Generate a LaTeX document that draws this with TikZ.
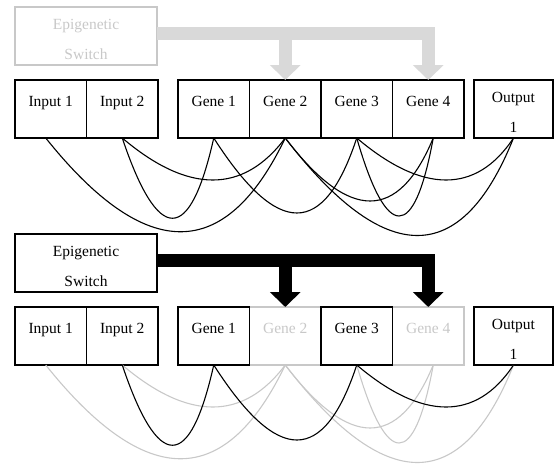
\documentclass[tikz,border=0pt]{standalone}
\usepackage{fontspec}
\setmainfont{Liberation Serif}
\usetikzlibrary{arrows.meta,calc}
\definecolor{offgray}{RGB}{200,200,200}
\definecolor{bargray}{RGB}{217,217,217}

\tikzset{
  cell/.style={draw, line width=1.4pt, anchor=north west, inner sep=0pt, outer sep=0pt,
    minimum width=71.5pt, text height=26pt, text depth=32pt, align=center,
    font=\fontsize{15.5}{18}\selectfont},
  twoline/.style={text height=52pt, text depth=6pt},
  off/.style={draw=offgray, text=offgray},
  link/.style={line width=1.1pt},
  offlink/.style={link, draw=offgray},
  switchbar/.style={line width=13pt, line join=miter, -{Triangle[width=30pt,length=15pt]}}
}

\begin{document}
\begin{tikzpicture}[x=1pt,y=1pt,yscale=-1,xscale=1]
\useasboundingbox (0,0) rectangle (554,464);

%Shape: Rectangle -- switch off
\node [cell, off, twoline, minimum width=142pt] (sw1) at (15,7) {Epigenetic\\[12pt]Switch};
%Shape: Rectangle -- circuit, all genes on
\node [cell] (in1a) at (15,80) {Input 1};
\node [cell] (in2a) at (86.5,80) {Input 2};
\node [cell] (g1a) at (178,80) {Gene 1};
\node [cell] (g2a) at (249.5,80) {Gene 2};
\node [cell] (g3a) at (321,80) {Gene 3};
\node [cell] (g4a) at (392.5,80) {Gene 4};
\node [cell, twoline, minimum width=79pt] (outa) at (474,80) {Output\\[12pt]1};

%Straight Lines -- grey switch arrows
\coordinate (bar1) at ($(sw1.east)+(0,-3)$);
\draw [switchbar, bargray] (bar1) -| (g4a.north);
\draw [switchbar, bargray] (bar1 -| g2a.north) -- (g2a.north);

%Curve Lines
\draw [link] ([xshift=-5pt]in1a.south) .. controls +(100,125) and +(-60,125) .. (g2a.south);
\draw [link] (in2a.south) .. controls +(36,107) and +(-24,107) .. (g1a.south);
\draw [link] (in2a.south) .. controls +(66,56) and +(-42,56) .. (g2a.south);
\draw [link] (g1a.south) .. controls +(64,100) and +(-33,100) .. (g3a.south);
\draw [link] (g2a.south) .. controls +(64,84) and +(-35,84) .. ([xshift=5pt]g4a.south);
\draw [link] (g2a.south) .. controls +(100,130) and +(-52,130) .. (outa.south);
\draw [link] (g3a.south) .. controls +(30,104) and +(-19,104) .. ([xshift=5pt]g4a.south);
\draw [link] (g3a.south) .. controls +(66,56) and +(-37,56) .. (outa.south);

%Shape: Rectangle -- switch on
\node [cell, twoline, minimum width=142pt] (sw2) at (15,234) {Epigenetic\\[12pt]Switch};
%Shape: Rectangle -- circuit, genes 2 and 4 off
\node [cell] (in1b) at (15,307) {Input 1};
\node [cell] (in2b) at (86.5,307) {Input 2};
\node [cell, off] (g2b) at (249.5,307) {Gene 2};
\node [cell, off] (g4b) at (392.5,307) {Gene 4};
\node [cell] (g1b) at (178,307) {Gene 1};
\node [cell] (g3b) at (321,307) {Gene 3};
\node [cell, twoline, minimum width=79pt] (outb) at (474,307) {Output\\[12pt]1};

%Straight Lines -- black switch arrows
\coordinate (bar2) at ($(sw2.east)+(0,-3)$);
\draw [switchbar] (bar2) -| (g4b.north);
\draw [switchbar] (bar2 -| g2b.north) -- (g2b.north);

%Curve Lines -- silenced links
\draw [offlink] ([xshift=-5pt]in1b.south) .. controls +(100,125) and +(-60,125) .. (g2b.south);
\draw [offlink] (in2b.south) .. controls +(66,56) and +(-42,56) .. (g2b.south);
\draw [offlink] (g2b.south) .. controls +(64,84) and +(-35,84) .. ([xshift=5pt]g4b.south);
\draw [offlink] (g2b.south) .. controls +(100,130) and +(-52,130) .. (outb.south);
\draw [offlink] (g3b.south) .. controls +(30,104) and +(-19,104) .. ([xshift=5pt]g4b.south);
%Curve Lines -- active links
\draw [link] (in2b.south) .. controls +(36,107) and +(-24,107) .. (g1b.south);
\draw [link] (g1b.south) .. controls +(64,100) and +(-33,100) .. (g3b.south);
\draw [link] (g3b.south) .. controls +(66,56) and +(-37,56) .. (outb.south);
\end{tikzpicture}
\end{document}
